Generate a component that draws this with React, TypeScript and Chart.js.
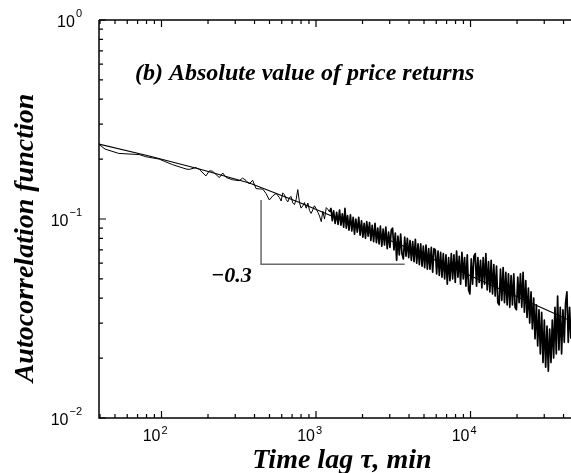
import React, { useEffect, useRef } from "react";
import { Chart, registerables } from "chart.js";

Chart.register(...registerables);

// Autocorrelation of |returns| versus time lag (minutes), log-log.
// Short lags: sparse, smooth part of the curve.
const shortLags = [
  39.4, 43.1, 52.9, 71.7, 79.2, 96.6, 117.8, 144, 151, 167,
  176, 194, 204, 214, 237, 249, 262, 289, 319, 335,
  353, 370, 389, 409, 430, 452, 475, 499, 525, 552,
  580, 595, 609, 625, 641, 657, 673, 690, 707, 725,
  744, 762, 782, 800, 821, 842, 864, 886, 908, 930,
  953, 976, 1000, 1027, 1054, 1081, 1107, 1135, 1165, 1194,
  1223,
];
const shortAcf = [
  0.237, 0.2245, 0.2136, 0.2107, 0.2056, 0.2, 0.1876, 0.1784, 0.1775, 0.1813,
  0.1773, 0.1646, 0.1747, 0.1738, 0.1614, 0.1703, 0.1616, 0.1574, 0.1558, 0.1606,
  0.156, 0.15, 0.1565, 0.1422, 0.1417, 0.1413, 0.1343, 0.1246, 0.1306, 0.1345,
  0.128, 0.1231, 0.1351, 0.1326, 0.1254, 0.1219, 0.1282, 0.1297, 0.1205, 0.1181,
  0.1255, 0.1405, 0.121, 0.1134, 0.1163, 0.121, 0.1133, 0.1203, 0.1102, 0.1067,
  0.111, 0.1165, 0.113, 0.1081, 0.1036, 0.097, 0.1094, 0.0999, 0.1141, 0.1118,
  0.1086,
];

// Long lags: dense, noisy part of the curve.
const longLags = [
  1250, 1275, 1300, 1330, 1360, 1390, 1420,
  1450, 1480, 1510, 1540, 1570, 1600, 1635,
  1670, 1705, 1740, 1775, 1810, 1850, 1890,
  1930, 1970, 2010, 2050, 2090, 2130, 2175,
  2220, 2265, 2310, 2360, 2410, 2460, 2510, 2560,
  2610, 2665, 2720, 2775, 2830, 2890, 2950,
  3010, 3070, 3130, 3195, 3260, 3325, 3390, 3460,
  3530, 3600, 3675, 3750, 3825, 3900, 3980,
  4060, 4140, 4225, 4310, 4395, 4485, 4575,
  4665, 4760, 4855, 4950, 5050, 5150, 5255, 5360,
  5465, 5575, 5690, 5800, 5920, 6035, 6160, 6280,
  6405, 6535, 6665, 6800, 6935, 7075, 7215,
  7360, 7510, 7660, 7810, 7965, 8125, 8290, 8455,
  8625, 8800, 8975, 9155, 9340, 9525, 9715, 9910,
  10110, 10310, 10520, 10730, 10940, 11160, 11380,
  11610, 11840, 12080, 12320, 12570, 12820, 13080,
  13340, 13600, 13880, 14150, 14440, 14730, 15020, 15320,
  15630, 15940, 16260, 16590, 16920, 17260, 17600,
  17950, 18310, 18680, 19050, 19430, 19820, 20220, 20620,
  21040, 21460, 21890, 22320, 22770, 23220, 23690,
  24160, 24650, 25140, 25640, 26150, 26680, 27210, 27750,
  28310, 28870, 29450, 30040, 30640, 31260, 31880, 32520,
  33170, 33830, 34510, 35200, 35900, 36620, 37350,
  38100, 38860, 39640, 40430, 41240, 42060, 42900, 43760, 44640,
];
const longAcf = [
  0.113, 0.098, 0.11, 0.095, 0.108, 0.094, 0.111,
  0.093, 0.106, 0.091, 0.113, 0.09, 0.104, 0.088,
  0.105, 0.087, 0.102, 0.084, 0.1, 0.086, 0.102,
  0.083, 0.098, 0.081, 0.095, 0.08, 0.097, 0.082,
  0.096, 0.078, 0.093, 0.077, 0.095, 0.076, 0.09, 0.075,
  0.092, 0.073, 0.089, 0.074, 0.091, 0.071, 0.086,
  0.072, 0.088, 0.09, 0.07, 0.085, 0.062, 0.082, 0.066,
  0.084, 0.067, 0.063, 0.081, 0.065, 0.08, 0.064,
  0.078, 0.062, 0.077, 0.061, 0.079, 0.06, 0.075,
  0.059, 0.075, 0.058, 0.073, 0.057, 0.074, 0.056, 0.071,
  0.056, 0.072, 0.054, 0.071, 0.07, 0.053, 0.069, 0.052,
  0.068, 0.051, 0.067, 0.05, 0.066, 0.047, 0.064,
  0.049, 0.067, 0.05, 0.066, 0.048, 0.069, 0.051, 0.065,
  0.047, 0.068, 0.05, 0.064, 0.046, 0.066, 0.044, 0.042,
  0.063, 0.047, 0.065, 0.067, 0.046, 0.064, 0.048,
  0.062, 0.045, 0.064, 0.047, 0.067, 0.044, 0.061,
  0.043, 0.062, 0.042, 0.059, 0.041, 0.058, 0.038, 0.037,
  0.056, 0.039, 0.057, 0.038, 0.054, 0.037, 0.053,
  0.036, 0.052, 0.037, 0.053, 0.036, 0.035, 0.051, 0.038,
  0.053, 0.036, 0.054, 0.034, 0.049, 0.032, 0.045,
  0.03, 0.043, 0.028, 0.04, 0.025, 0.037, 0.023, 0.035,
  0.021, 0.034, 0.019, 0.031, 0.018, 0.029, 0.0172, 0.028,
  0.019, 0.031, 0.02, 0.036, 0.021, 0.041, 0.022,
  0.036, 0.021, 0.035, 0.024, 0.038, 0.043, 0.024, 0.036, 0.025,
];

// Smooth fitted curve through the data
const fitLags = [39.4, 83.2, 175.6, 370.7, 782, 1649, 3481, 7345, 15500, 32700, 44700];
const fitAcf = [0.238, 0.2073, 0.1784, 0.1517, 0.121, 0.0949, 0.0744, 0.0577, 0.0445, 0.0343, 0.0307];

// Slope guide (right angle) and its label
const guideLags = [441, 441, 3750];
const guideAcf = [0.1246, 0.0592, 0.0592];
const guideLabel = "\u22120.3";

const xDecades = [100, 1000, 10000];
const xExponents = ["2", "3", "4"];
const yDecades = [1, 0.1, 0.01];
const yExponents = ["0", "\u22121", "\u22122"];

const X_MIN = 39.4;
const X_MAX = 44700;
const Y_MIN = 0.01;
const Y_MAX = 1;

const titleText = "(b) Absolute value of price returns";
const xTitle = "Time lag \u03c4, min";
const yTitle = "Autocorrelation function";

const SERIF = '"Liberation Serif", "Times New Roman", serif';
const SANS = '"Liberation Sans", Arial, sans-serif';

function logTicks(min: number, max: number): { v: number; major: boolean }[] {
  const out: { v: number; major: boolean }[] = [];
  const lo = Math.floor(Math.log10(min));
  const hi = Math.ceil(Math.log10(max));
  for (let e = lo; e <= hi; e++) {
    for (let m = 1; m <= 9; m++) {
      const v = m * Math.pow(10, e);
      if (v >= min * 0.999 && v <= max * 1.001) out.push({ v, major: m === 1 });
    }
  }
  return out;
}

const framePlugin = {
  id: "frame",
  afterDraw(chart: any) {
    const { ctx, chartArea } = chart;
    const xs = chart.scales.x;
    const ys = chart.scales.y;
    const { left, right, top, bottom } = chartArea;
    ctx.save();
    ctx.strokeStyle = "#000";
    ctx.lineWidth = 1.5;
    ctx.beginPath();
    ctx.moveTo(left, top);
    ctx.lineTo(right + 2, top);
    ctx.moveTo(left, top);
    ctx.lineTo(left, bottom);
    ctx.lineTo(right + 2, bottom);
    ctx.stroke();

    ctx.lineWidth = 1.2;
    ctx.beginPath();
    for (const t of logTicks(X_MIN, X_MAX)) {
      const px = xs.getPixelForValue(t.v);
      const len = t.major ? 7 : 4;
      ctx.moveTo(px, bottom);
      ctx.lineTo(px, bottom - len);
      ctx.moveTo(px, top);
      ctx.lineTo(px, top + len);
    }
    for (const t of logTicks(Y_MIN, Y_MAX)) {
      const py = ys.getPixelForValue(t.v);
      const len = t.major ? 7 : 4;
      ctx.moveTo(left, py);
      ctx.lineTo(left + len, py);
    }
    ctx.stroke();

    // decade labels, 10 with a raised exponent
    ctx.fillStyle = "#000";
    ctx.textBaseline = "alphabetic";
    xDecades.forEach((v, i) => {
      const px = xs.getPixelForValue(v);
      ctx.font = `16px ${SANS}`;
      ctx.textAlign = "right";
      ctx.fillText("10", px - 1, 441);
      ctx.font = `11px ${SANS}`;
      ctx.textAlign = "left";
      ctx.fillText(xExponents[i], px, 434);
    });
    yDecades.forEach((v, i) => {
      const py = ys.getPixelForValue(v);
      ctx.font = `11px ${SANS}`;
      const we = ctx.measureText(yExponents[i]).width;
      ctx.textAlign = "right";
      ctx.fillText(yExponents[i], 82, py - 3);
      ctx.font = `16px ${SANS}`;
      ctx.fillText("10", 82 - we - 1, py + 7);
    });

    // slope label
    ctx.font = `bold italic 22px ${SERIF}`;
    ctx.textAlign = "left";
    ctx.fillText(guideLabel, 211, 282);

    // titles
    ctx.font = `bold italic 24px ${SERIF}`;
    ctx.fillText(titleText, 135, 80);

    ctx.font = `bold italic 28px ${SERIF}`;
    ctx.textAlign = "center";
    ctx.fillText(xTitle, 342, 468);

    ctx.save();
    ctx.translate(33, 238);
    ctx.rotate(-Math.PI / 2);
    ctx.fillText(yTitle, 0, 0);
    ctx.restore();
    ctx.restore();
  },
};

export default function App() {
  const ref = useRef<HTMLCanvasElement | null>(null);

  useEffect(() => {
    document.body.style.margin = "0";
    const canvas = ref.current;
    if (!canvas) return;
    const shortPart = shortLags.map((x, i) => ({ x, y: shortAcf[i] }));
    // the dense part continues from the last short-lag point
    const longPart = [shortPart[shortPart.length - 1]].concat(
      longLags.map((x, i) => ({ x, y: longAcf[i] }))
    );
    const fit = fitLags.map((x, i) => ({ x, y: fitAcf[i] }));
    const guide = guideLags.map((x, i) => ({ x, y: guideAcf[i] }));
    const chart = new Chart(canvas, {
      type: "line",
      data: {
        datasets: [
          { data: guide, borderColor: "#6a6a6a", borderWidth: 1.5, pointRadius: 0, tension: 0 },
          { data: fit, borderColor: "#000", borderWidth: 1.1, pointRadius: 0, tension: 0 },
          {
            data: shortPart,
            borderColor: "#000",
            borderWidth: 1,
            pointRadius: 0,
            tension: 0,
            borderJoinStyle: "round",
          },
          {
            data: longPart,
            borderColor: "#000",
            borderWidth: 1.7,
            pointRadius: 0,
            tension: 0,
            borderJoinStyle: "round",
          },
        ],
      },
      options: {
        animation: false,
        responsive: false,
        devicePixelRatio: 1,
        layout: { padding: { left: 99, top: 20, right: 0, bottom: 55 } },
        plugins: { legend: { display: false }, tooltip: { enabled: false }, title: { display: false } },
        scales: {
          x: { type: "logarithmic", min: X_MIN, max: X_MAX, display: false },
          y: { type: "logarithmic", min: Y_MIN, max: Y_MAX, display: false },
        },
      },
      plugins: [framePlugin],
    });
    return () => chart.destroy();
  }, []);

  return (
    <div style={{ position: "absolute", left: 0, top: 0, width: 571, height: 473, background: "#fff" }}>
      <canvas ref={ref} width={571} height={473} />
    </div>
  );
}
